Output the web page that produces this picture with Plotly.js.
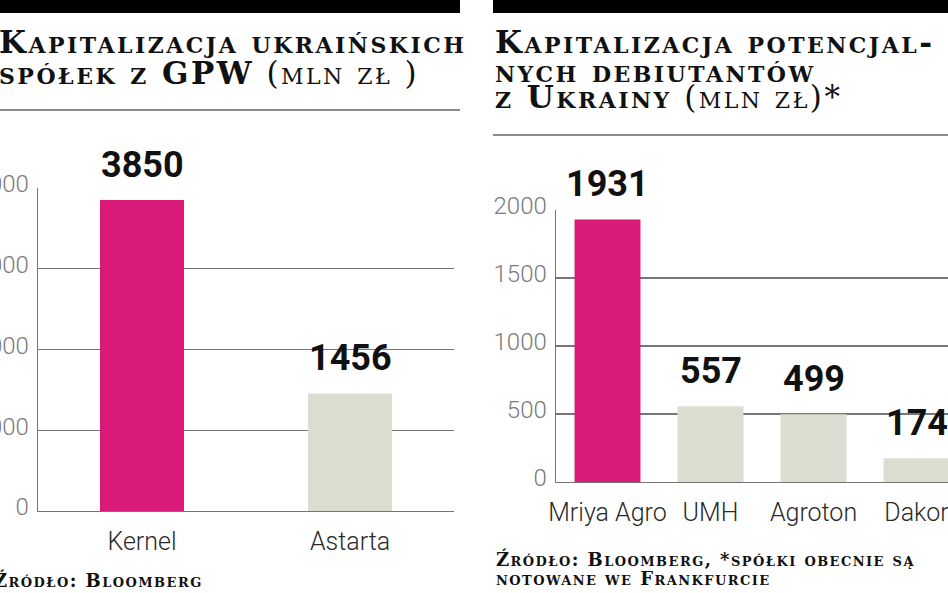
<!DOCTYPE html>
<html><head><meta charset="utf-8">
<script src="https://cdn.plot.ly/plotly-3.0.1.min.js"></script>
<style>
html,body{margin:0;padding:0;overflow:hidden;background:#fff;width:948px;height:593px}
#chart{width:1000px;height:593px}
text.annotation-text[style*="Serif"]{letter-spacing:0.08em}
</style>
</head><body><div id="chart"></div>
<script>
// ---- data ----
const gpwCompanies = ['Kernel', 'Astarta'];
const gpwCap = [3850, 1456];
const gpwColors = ['#da1a78', '#dddcd0'];
const gpwTicks = [0, 1000, 2000, 3000, 4000];

const debutCompanies = ['Mriya Agro', 'UMH', 'Agroton', 'Dakor'];
const debutCap = [1931, 557, 499, 174];
const debutColors = ['#da1a78', '#dddcd0', '#dddcd0', '#dddcd0'];
const debutTicks = [0, 500, 1000, 1500, 2000];

// ---- layout helpers (pixel -> paper) ----
const W = 1000, H = 593;
const px = x => x / W;
const py = y => 1 - y / H;

const gridCol = '#767676';
const tickFont = {family: 'Roboto, "Open Sans", sans-serif', size: 24, color: '#7a7a7a', weight: 300};
const catFont = {family: 'Roboto, "Open Sans", sans-serif', size: 25, color: '#2a2a2a', weight: 300};
const valFont = {family: 'Roboto, "Open Sans", sans-serif', size: 36, color: '#111', weight: 'bold'};
const titleFont = {family: '"DejaVu Serif", serif', size: 31, color: '#111', weight: 'normal', variant: 'small-caps'};
const srcFont = {family: '"DejaVu Serif", serif', size: 18, color: '#111', weight: 'bold', variant: 'small-caps'};

const traces = [
  {type: 'bar', x: gpwCompanies, y: gpwCap, marker: {color: gpwColors}, width: 0.404,
   xaxis: 'x', yaxis: 'y', hoverinfo: 'x+y', showlegend: false},
  {type: 'bar', x: debutCompanies, y: debutCap, marker: {color: debutColors}, width: 0.64,
   xaxis: 'x2', yaxis: 'y2', hoverinfo: 'x+y', showlegend: false}
];

function yAx(range, ticks, dom) {
  return {domain: dom, range: range, tickvals: ticks, ticktext: ticks.map(String),
    showgrid: true, gridcolor: gridCol, gridwidth: 1.4, showline: true, linecolor: gridCol, linewidth: 1.4,
    zeroline: false, ticks: '', tickfont: tickFont, ticklabelstandoff: 3, ticklabelshift: -4, fixedrange: true};
}
function xAx(dom) {
  return {domain: dom, showline: true, linecolor: gridCol, linewidth: 1.4, showgrid: false,
    ticks: '', tickfont: catFont, ticklabelstandoff: 8, fixedrange: true};
}

const annotations = [];
function valueLabels(cats, vals, xr, yr) {
  cats.forEach((c, i) => annotations.push({xref: xr, yref: yr, x: c, y: vals[i], text: String(vals[i]),
    showarrow: false, yanchor: 'bottom', yshift: 12, font: valFont}));
}
valueLabels(gpwCompanies, gpwCap, 'x', 'y');
valueLabels(debutCompanies, debutCap, 'x2', 'y2');

function txt(text, x, y, font) {
  annotations.push({xref: 'paper', yref: 'paper', x: px(x), y: py(y), text: text, showarrow: false,
    xanchor: 'left', yanchor: 'middle', font: font, align: 'left'});
}
txt('<b>Kapitalizacja ukraińskich</b>', -3, 42, titleFont);
txt('<b>spółek z GPW</b> (mln zł )', -3, 73, titleFont);
txt('<b>Kapitalizacja potencjal-</b>', 493, 42, titleFont);
txt('<b>nych debiutantów</b>', 493, 71, titleFont);
txt('<b>z Ukrainy</b> (mln zł)*', 493, 97, titleFont);
txt('Źródło: Bloomberg', -8, 580, srcFont);
txt('Źródło: Bloomberg, *spółki obecnie są', 494, 559, srcFont);
txt('notowane we Frankfurcie', 494, 578, srcFont);

const shapes = [
  {type: 'rect', xref: 'paper', yref: 'paper', x0: px(-10), x1: px(460), y0: py(0), y1: py(13), fillcolor: '#000', line: {width: 0}},
  {type: 'rect', xref: 'paper', yref: 'paper', x0: px(493), x1: px(1010), y0: py(0), y1: py(13), fillcolor: '#000', line: {width: 0}},
  {type: 'line', xref: 'paper', yref: 'paper', x0: px(-10), x1: px(460), y0: py(110), y1: py(110), line: {color: '#8c8c8c', width: 2}},
  {type: 'line', xref: 'paper', yref: 'paper', x0: px(493), x1: px(1010), y0: py(135), y1: py(135), line: {color: '#8c8c8c', width: 2}}
];

const layout = {
  width: W, height: H, margin: {l: 0, r: 0, t: 0, b: 0},
  paper_bgcolor: '#fff', plot_bgcolor: 'rgba(0,0,0,0)',
  showlegend: false,
  xaxis: Object.assign(xAx([px(38), px(454)]), {anchor: 'y'}),
  yaxis: Object.assign(yAx([0, 4000], gpwTicks, [py(511), py(188)]), {anchor: 'x'}),
  xaxis2: Object.assign(xAx([px(556), px(968)]), {anchor: 'y2'}),
  yaxis2: Object.assign(yAx([0, 2000], debutTicks, [py(482), py(210)]), {anchor: 'x2'}),
  annotations: annotations, shapes: shapes
};

Plotly.newPlot('chart', traces, layout, {staticPlot: true, displayModeBar: false});
</script>
</body></html>
